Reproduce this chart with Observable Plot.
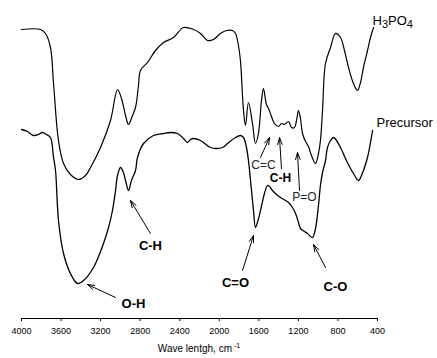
<!DOCTYPE html>
<html>
<head>
<meta charset="utf-8">
<script src="https://cdn.jsdelivr.net/npm/d3@7"></script>
<script src="https://cdn.jsdelivr.net/npm/@observablehq/plot@0.6"></script>
<style>
  html, body { margin: 0; padding: 0; background: #fff; }
  #chart svg { display: block; }
</style>
</head>
<body>
<div id="chart"></div>
<script>
// ---- Data (transmittance in arbitrary units) ----
const xTicks = [4000, 3600, 3200, 2800, 2400, 2000, 1600, 1200, 800, 400];

const h3po4Wave = [4000,3808,3757,3707,3676,3626,3575,3505,3424,3353,3302,3201,3100,3029,2989,2948,2918,2878,2847,2817,2797,2726,2645,2564,2463,2362,2261,2190,2119,2059,1988,1927,1866,1836,1806,1786,1755,1735,1705,1664,1634,1604,1573,1553,1523,1502,1472,1442,1401,1371,1341,1300,1270,1239,1219,1199,1179,1158,1128,1098,1068,1027,997,977,956,926,875,825,774,734,693,643,602,572,542,501,471,440];
const h3po4T    = [289,289,285,271,235,178,155,144,139,143,151,171,198,229,220,203,194,203,211,233,248,256,268,276,281,291,289,285,278,279,285,288,288,285,273,258,208,193,216,195,175,185,218,230,214,210,202,195,192,195,194,197,191,191,198,208,200,185,177,172,163,155,165,178,208,255,271,285,281,268,251,235,228,236,251,268,281,291];

const precursorWave = [4000,3939,3879,3828,3788,3747,3707,3676,3656,3626,3575,3505,3434,3373,3272,3171,3120,3080,3049,3029,2999,2969,2948,2918,2888,2847,2827,2766,2665,2564,2493,2423,2362,2321,2291,2261,2190,2089,2028,1967,1917,1836,1786,1755,1725,1705,1684,1654,1634,1614,1583,1543,1512,1492,1462,1421,1381,1330,1300,1260,1229,1199,1179,1138,1108,1057,1027,997,977,956,926,906,875,845,815,774,714,673,643,592,562,542,501,450];
const precursorT    = [189,187,183,184,186,184,181,161,148,98,65,45,35,38,51,75,91,108,128,143,151,146,138,128,138,148,161,175,183,185,186,185,180,176,179,180,178,171,170,171,175,181,183,181,171,158,138,108,91,96,108,125,133,132,128,124,121,118,116,111,105,96,90,87,85,81,90,113,133,146,158,171,178,181,178,171,158,150,145,138,143,148,161,188];

const seriesNames = ["H3PO4", "Precursor"];
const seriesLabelWave = [450, 410];
const seriesLabelT = [298, 196];

// Main band assignments (bold, large)
const bandLabels   = ["C-H", "O-H", "C=O", "C-O"];
const bandLabelW   = [2696, 2867, 1836, 825];
const bandLabelT   = [73, 15, 36, 32];
const bandArrowW1  = [2696, 3049, 1765, 926];
const bandArrowT1  = [85, 21, 48, 51];
const bandArrowW2  = [2898, 3333, 1654, 1047];
const bandArrowT2  = [118, 34, 83, 74];

// Fingerprint-region assignments
const fpLabels   = ["C=C", "C-H", "P=O"];
const fpLabelW   = [1553, 1381, 1138];
const fpLabelT   = [153, 140, 121];
const fpArrowW1  = [1583, 1371, 1189];
const fpArrowT1  = [161, 150, 128];
const fpArrowW2  = [1492, 1391, 1209];
const fpArrowT2  = [181, 181, 166];

// ---- Build tables ----
const h3po4 = h3po4Wave.map((w, i) => ({w, t: h3po4T[i]}));
const precursor = precursorWave.map((w, i) => ({w, t: precursorT[i]}));
const seriesLab = seriesNames.map((name, i) => ({name, w: seriesLabelWave[i], t: seriesLabelT[i]}));
const bands = bandLabels.map((label, i) => ({label, w: bandLabelW[i], t: bandLabelT[i],
  w1: bandArrowW1[i], t1: bandArrowT1[i], w2: bandArrowW2[i], t2: bandArrowT2[i]}));
const fps = fpLabels.map((label, i) => ({label, w: fpLabelW[i], t: fpLabelT[i],
  w1: fpArrowW1[i], t1: fpArrowT1[i], w2: fpArrowW2[i], t2: fpArrowT2[i]}));
const fpBold = fps.filter(d => d.label === "C-H");
const fpPlain = fps.filter(d => d.label !== "C-H");

const font = "'Liberation Sans', Arial, sans-serif";

const chart = Plot.plot({
  width: 437,
  height: 358,
  marginLeft: 21,
  marginRight: 60,
  marginTop: 0,
  marginBottom: 40,
  style: {fontFamily: font, fontSize: "9px", color: "#000", background: "#fff", overflow: "visible"},
  x: {domain: [4000, 400], ticks: xTicks, tickSize: 3, tickPadding: 6, label: null, tickFormat: d => String(d)},
  y: {domain: [0, 318], axis: null},
  marks: [
    Plot.ruleY([0], {stroke: "#000", strokeWidth: 1}),
    Plot.line(h3po4, {x: "w", y: "t", curve: "catmull-rom", stroke: "#000", strokeWidth: 1.2}),
    Plot.line(precursor, {x: "w", y: "t", curve: "catmull-rom", stroke: "#000", strokeWidth: 1.3}),
    Plot.arrow(bands, {x1: "w1", y1: "t1", x2: "w2", y2: "t2", stroke: "#000", strokeWidth: 1, headLength: 11, headAngle: 36, inset: 0}),
    Plot.arrow(fps, {x1: "w1", y1: "t1", x2: "w2", y2: "t2", stroke: "#000", strokeWidth: 1, headLength: 11, headAngle: 36, inset: 0}),
    Plot.text(bands, {x: "w", y: "t", text: "label", fontWeight: "bold", fontSize: 13, fill: "#000"}),
    Plot.text(fpPlain, {x: "w", y: "t", text: "label", fontSize: 12, fill: "#222"}),
    Plot.text(fpBold, {x: "w", y: "t", text: "label", fontSize: 12, fontWeight: "bold", fill: "#000"}),
    Plot.text(seriesLab, {x: "w", y: "t", text: "name", textAnchor: "start", fontSize: 13, fill: "#000"})
  ]
});

document.getElementById("chart").appendChild(chart);

// Subscripts in H3PO4
d3.select(chart).selectAll("text").each(function() {
  if (this.textContent === "H3PO4") {
    const t = d3.select(this);
    t.text(null);
    t.append("tspan").text("H");
    t.append("tspan").attr("dy", 3).attr("font-size", 11).text("3");
    t.append("tspan").attr("dy", -3).text("PO");
    t.append("tspan").attr("dy", 3).attr("font-size", 11).text("4");
  }
});

// Axis title with superscript
const title = d3.select(chart).append("text")
  .attr("x", (21 + 377) / 2)
  .attr("y", 352)
  .attr("text-anchor", "middle")
  .attr("font-family", font)
  .attr("font-size", 10)
  .attr("fill", "#000");
title.append("tspan").text("Wave lentgh, cm");
title.append("tspan").attr("dy", -4).attr("font-size", 7).text(" -1");
</script>
</body>
</html>
